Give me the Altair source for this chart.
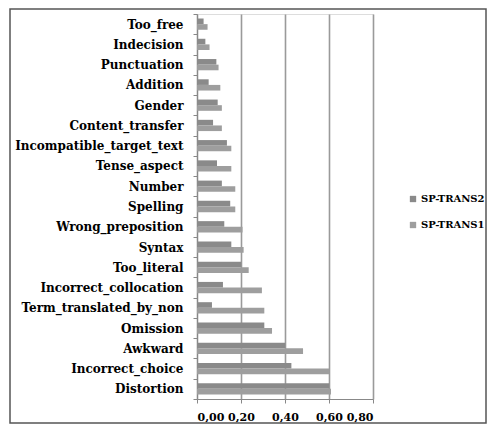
import altair as alt
import pandas as pd

categories = ["Too_free", "Indecision", "Punctuation", "Addition", "Gender",
              "Content_transfer", "Incompatible_target_text", "Tense_aspect",
              "Number", "Spelling", "Wrong_preposition", "Syntax", "Too_literal",
              "Incorrect_collocation", "Term_translated_by_non", "Omission",
              "Awkward", "Incorrect_choice", "Distortion"]
series = ["SP-TRANS2", "SP-TRANS1"]
trans2 = [0.030, 0.038, 0.088, 0.053, 0.094, 0.073, 0.136, 0.091, 0.113, 0.151,
          0.124, 0.156, 0.201, 0.118, 0.068, 0.306, 0.401, 0.429, 0.601]
trans1 = [0.048, 0.057, 0.098, 0.106, 0.113, 0.113, 0.156, 0.156, 0.174, 0.174,
          0.207, 0.212, 0.235, 0.295, 0.306, 0.341, 0.482, 0.601, 0.609]
x_ticks = [0.0, 0.2, 0.4, 0.6, 0.8]

rows = []
for c, a, b in zip(categories, trans2, trans1):
    rows.append({"cat": c, "series": series[0], "value": a})
    rows.append({"cat": c, "series": series[1], "value": b})
df = pd.DataFrame(rows)

FONT = "DejaVu Serif"

bars = alt.Chart(df).mark_bar().encode(
    x=alt.X("value:Q",
            scale=alt.Scale(domain=[0, 0.8], nice=False),
            axis=alt.Axis(values=x_ticks, title=None, grid=True,
                          gridColor="#9a9a9a", gridWidth=1.6,
                          domainColor="#888888", tickColor="#888888",
                          tickSize=4, labelPadding=8,
                          labelExpr="replace(format(datum.value, '.2f'), '.', ',')",
                          labelFont=FONT, labelFontWeight="bold",
                          labelFontSize=11, labelColor="#000000")),
    y=alt.Y("cat:N", sort=categories,
            scale=alt.Scale(paddingInner=0, paddingOuter=0),
            axis=alt.Axis(title=None, tickBand="extent", tickSize=4,
                          tickColor="#888888", domainColor="#888888",
                          labelPadding=10, labelFont=FONT,
                          labelFontWeight="bold", labelFontSize=12,
                          labelColor="#000000")),
    yOffset=alt.YOffset("series:N", sort=series,
                        scale=alt.Scale(paddingInner=0, paddingOuter=0.8)),
    color=alt.Color("series:N",
                    scale=alt.Scale(domain=series, range=["#8a8a8a", "#9e9e9e"]),
                    legend=alt.Legend(title=None, orient="none",
                                      legendX=211, legendY=180,
                                      symbolType="square", symbolSize=40,
                                      symbolStrokeWidth=0,
                                      labelFont=FONT, labelFontSize=10,
                                      labelFontWeight="bold",
                                      labelColor="#000000", rowPadding=16,
                                      labelOffset=3)),
)

frame = alt.Chart(alt.Data(values=[{"k": 1}])).mark_rect(
    fillOpacity=0, stroke="#555555", strokeWidth=1.5
).encode(
    x=alt.value(-187), x2=alt.value(289),
    y=alt.value(-5), y2=alt.value(409),
)

chart = alt.layer(frame, bars).properties(
    width=176, height=385,
    padding={"left": 189, "top": 6, "right": 115, "bottom": 25},
    autosize=alt.AutoSizeParams(type="none"),
).configure_view(stroke=None).configure(background="white")

chart.save("out.html", embed_options={"renderer": "svg", "actions": False})
